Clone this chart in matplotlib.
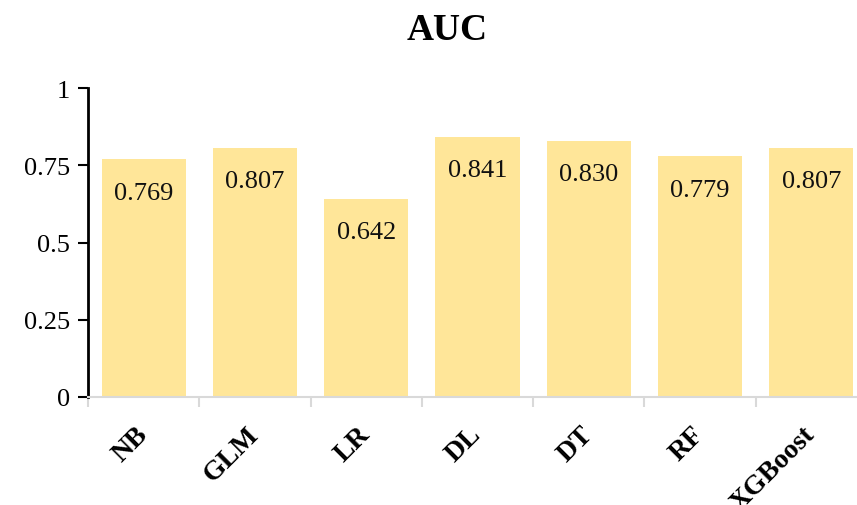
import matplotlib
matplotlib.use("Agg")
import matplotlib.pyplot as plt
import numpy as np

categories = ["NB", "GLM", "LR", "DL", "DT", "RF", "XGBoost"]
auc_values = [0.769, 0.807, 0.642, 0.841, 0.830, 0.779, 0.807]
value_labels = ["0.769", "0.807", "0.642", "0.841", "0.830", "0.779", "0.807"]
y_ticks = [0, 0.25, 0.5, 0.75, 1]
y_tick_labels = ["0", "0.25", "0.5", "0.75", "1"]
title = "AUC"

plt.rcParams['font.family'] = ['Liberation Serif', 'DejaVu Serif']

W, H = 857, 506
fig = plt.figure(figsize=(W / 100, H / 100), dpi=100)
left, right, bottom, top = 88, 867, 398, 89
ax = fig.add_axes([left / W, (H - bottom) / H, (right - left) / W, (bottom - top) / H])

x = np.arange(len(categories))
ax.bar(x, auc_values, width=0.755, color="#FFE699", zorder=2)

for xi, v, lab in zip(x, auc_values, value_labels):
    ax.annotate(lab, (xi, v), xytext=(0, -16), textcoords="offset points",
                ha="center", va="top", fontsize=19, color="#111111")

ax.set_xlim(-0.5, len(categories) - 0.5)
ax.set_ylim(0, 1)
ax.set_yticks(y_ticks)
ax.set_yticklabels(y_tick_labels, fontsize=19)
ax.tick_params(axis="y", length=7, width=1.5, color="black", pad=6)

ax.set_xticks(x)
ax.set_xticklabels(categories, fontsize=20, fontweight="bold", rotation=45,
                   ha="right", va="center", rotation_mode="anchor")
ax.tick_params(axis="x", which="major", length=0, pad=24)
ax.set_xticks(np.arange(len(categories) + 1) - 0.5, minor=True)
ax.tick_params(axis="x", which="minor", length=7, width=1.5, color="#D9D9D9")

for s in ["top", "right"]:
    ax.spines[s].set_visible(False)
ax.spines["left"].set_color("black")
ax.spines["left"].set_linewidth(2)
ax.spines["bottom"].set_color("#D9D9D9")
ax.spines["bottom"].set_linewidth(1.5)

fig.text(447 / W, 1 - 30 / H, title, ha="center", va="center",
         fontsize=27, fontweight="bold")

fig.savefig("out.png", dpi=100)
